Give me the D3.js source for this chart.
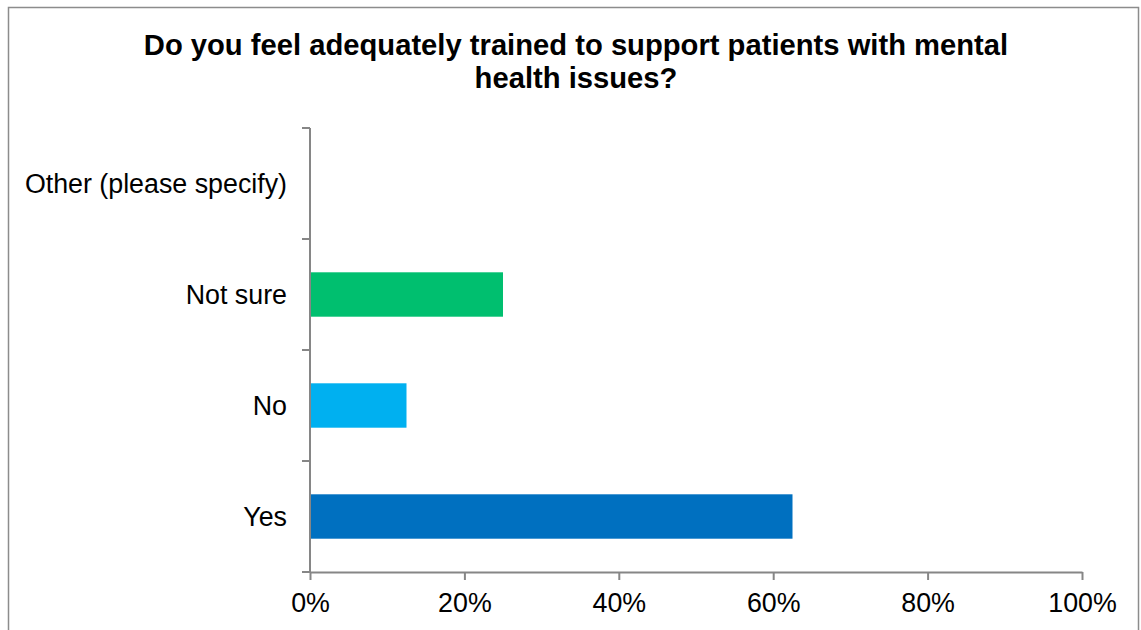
<!DOCTYPE html>
<html>
<head>
<meta charset="utf-8">
<script src="https://cdn.jsdelivr.net/npm/d3@7"></script>
<style>
  html, body { margin: 0; padding: 0; background: #fff; }
  svg { display: block; font-family: "Liberation Sans", Arial, sans-serif; }
</style>
</head>
<body>
<svg id="chart" width="1141" height="630"></svg>
<script>
// Survey responses (share of respondents), bottom to top
const categories = ["Yes", "No", "Not sure", "Other (please specify)"];
const shares = [0.625, 0.125, 0.25, 0];
const barColors = ["#0070C0", "#00B0F0", "#00BF6F", "#7F7F7F"];
const xTicks = [0, 0.2, 0.4, 0.6, 0.8, 1.0];
const titleLines = ["Do you feel adequately trained to support patients with mental", "health issues?"];

const svg = d3.select("#chart");
const plot = { left: 310, right: 1082, top: 128, bottom: 572 };
const axisColor = "#868686";
const labelSize = 26.8;

// Outer frame
svg.append("rect")
  .attr("x", 8.5).attr("y", 7.5)
  .attr("width", 1130).attr("height", 640)
  .attr("fill", "#fff")
  .attr("stroke", "#8c8c8c").attr("stroke-width", 1.5);

// Title
svg.append("text")
  .attr("x", 576).attr("y", 55)
  .attr("text-anchor", "middle")
  .attr("font-size", 29.2).attr("font-weight", "bold").attr("fill", "#000")
  .selectAll("tspan").data(titleLines).join("tspan")
  .attr("x", 576).attr("dy", (d, i) => i === 0 ? 0 : 33)
  .text(d => d);

const x = d3.scaleLinear().domain([0, 1]).range([plot.left, plot.right]);
// first category sits at the bottom
const y = d3.scaleBand()
  .domain(categories)
  .range([plot.bottom, plot.top])
  .paddingInner(0.6).paddingOuter(0.3);

// Bars
svg.append("g").selectAll("rect")
  .data(categories.map((c, i) => ({ c, v: shares[i], col: barColors[i] })))
  .join("rect")
  .attr("x", x(0) + 0.5)
  .attr("y", d => y(d.c))
  .attr("width", d => Math.max(0, x(d.v) - x(0) - 0.5))
  .attr("height", y.bandwidth())
  .attr("fill", d => d.col);

// X axis
const xAxis = svg.append("g")
  .attr("transform", `translate(0,${plot.bottom})`)
  .call(d3.axisBottom(x).tickValues(xTicks).tickFormat(d3.format(".0%")).tickSize(8).tickSizeOuter(0).tickPadding(13));
xAxis.select(".domain").attr("stroke", axisColor).attr("stroke-width", 2);
xAxis.selectAll(".tick line").attr("stroke", axisColor).attr("stroke-width", 2);
xAxis.selectAll(".tick text").attr("font-size", labelSize).attr("fill", "#000")
  .attr("font-family", "Liberation Sans, Arial, sans-serif");

// Y axis: category labels, with tick marks on the slot boundaries
const yAxis = svg.append("g").attr("transform", `translate(${plot.left},0)`);
yAxis.append("line")
  .attr("x1", 0).attr("x2", 0)
  .attr("y1", plot.top).attr("y2", plot.bottom)
  .attr("stroke", axisColor).attr("stroke-width", 2);
const step = y.step();
const boundaries = d3.range(categories.length + 1).map(i => plot.bottom - i * step);
yAxis.selectAll("line.tk").data(boundaries).join("line")
  .attr("class", "tk")
  .attr("x1", -8).attr("x2", 0)
  .attr("y1", d => d).attr("y2", d => d)
  .attr("stroke", axisColor).attr("stroke-width", 2);
yAxis.selectAll("text").data(categories).join("text")
  .attr("x", -23)
  .attr("y", d => y(d) + y.bandwidth() / 2)
  .attr("dy", "0.35em")
  .attr("text-anchor", "end")
  .attr("font-size", labelSize).attr("fill", "#000")
  .text(d => d);
</script>
</body>
</html>
